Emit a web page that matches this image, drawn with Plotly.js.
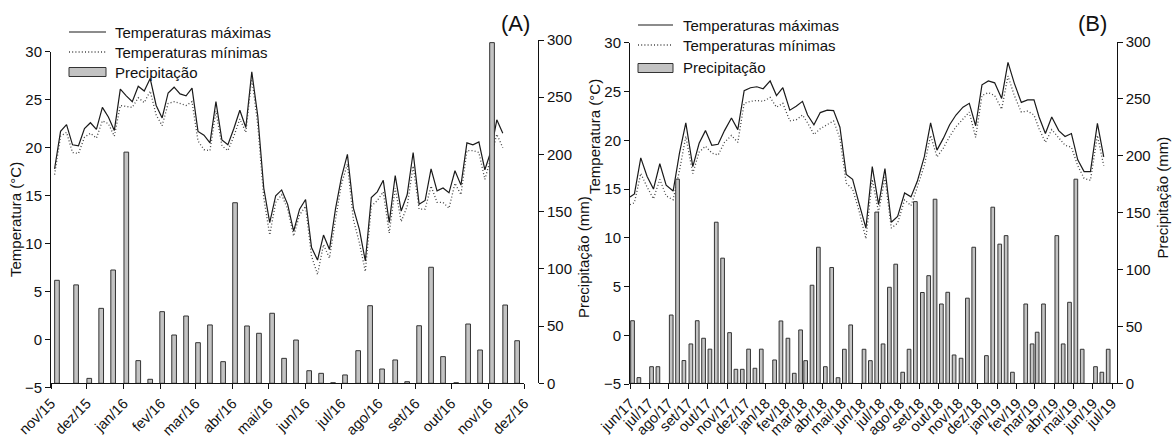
<!DOCTYPE html>
<html>
<head>
<meta charset="utf-8">
<script src="https://cdn.plot.ly/plotly-3.0.1.min.js"></script>
<style>
html,body{margin:0;padding:0;background:#fff;}
#chart{width:1173px;height:443px;}
</style>
</head>
<body>
<div id="chart"></div>
<script>
// ---------------- Panel A (nov/15 - dez/16) ----------------
const A_tempStart = '2015-11-04';   // first 5-day period
const A_tempStepDays = 5;
const A_tempMax = [17.8,21.7,22.4,20.3,20.2,22.0,22.6,21.9,24.2,23.2,21.8,26.1,25.4,24.8,26.4,25.9,27.2,24.4,23.1,25.7,
  26.3,25.6,25.4,26.2,21.7,21.3,20.5,24.8,20.8,20.3,22.0,23.9,22.1,27.9,23.3,15.8,12.2,15.0,15.6,14.1,
  11.3,13.6,14.6,9.6,8.3,10.9,9.4,13.6,16.9,19.3,13.7,11.5,8.2,14.8,15.4,16.6,12.2,17.1,13.4,15.1,
  19.5,14.1,14.5,17.8,15.5,15.8,15.3,17.6,16.1,20.5,20.3,20.6,17.7,19.6,22.9,21.5];
const A_tempMin = [17.2,21.2,21.6,19.5,19.4,21.1,21.5,21.0,22.8,22.5,21.2,24.4,24.3,24.2,25.2,24.7,25.9,23.4,22.3,24.6,
  24.8,24.6,24.4,24.8,20.7,19.8,19.7,23.8,20.2,19.7,21.2,23.0,21.6,27.3,22.4,14.8,10.9,14.3,15.1,13.6,
  10.8,13.0,13.9,8.7,6.8,9.9,8.5,12.5,16.2,18.3,12.5,10.1,7.1,13.9,14.5,15.4,11.1,15.8,12.3,13.9,
  18.1,13.6,13.6,16.0,14.3,14.3,13.7,16.3,15.1,19.7,19.7,19.5,16.7,18.9,21.4,20.0];
const A_precipDates = ['2015-11-06','2015-11-22','2015-12-03','2015-12-13','2015-12-23',
  '2016-01-03','2016-01-13','2016-01-23','2016-02-02','2016-02-12','2016-02-22',
  '2016-03-03','2016-03-13','2016-03-24','2016-04-03','2016-04-13','2016-04-23',
  '2016-05-04','2016-05-14','2016-05-24','2016-06-04','2016-06-14','2016-06-24',
  '2016-07-04','2016-07-15','2016-07-25','2016-08-04','2016-08-15','2016-08-25',
  '2016-09-04','2016-09-14','2016-09-24','2016-10-05','2016-10-15','2016-10-25',
  '2016-11-04','2016-11-15','2016-11-25'];
const A_precip = [90,86,4.3,65.5,99,
  202,19.8,3.5,62.6,42.2,58.8,
  35.5,51,18.9,157.8,50.1,43.7,
  61.2,21.8,37.8,11,8.7,0.5,
  7.3,28.5,67.8,12.5,20.4,1.4,
  50.3,101.4,23.3,0.5,51.8,29.1,
  297.7,68.4,37.2];
const A_tickDates = ['2015-11-01','2015-12-01','2016-01-01','2016-02-01','2016-03-01','2016-04-01','2016-05-01',
  '2016-06-01','2016-07-01','2016-08-01','2016-09-01','2016-10-01','2016-11-01','2016-12-01'];
const A_tickLabels = ['nov/15','dez/15','jan/16','fev/16','mar/16','abr/16','mai/16',
  'jun/16','jul/16','ago/16','set/16','out/16','nov/16','dez/16'];

// ---------------- Panel B (jun/17 - jul/19) ----------------
const B_tempFirstDate = '2017-06-01';
const B_decendioDays = [8,18,28];
const B_tempMax = [14.2,
  14.5,18.2,16.3, 15.0,17.6,15.4, 14.8,18.7,21.8, 17.3,19.7,21.0, 19.5,19.6,21.0, 22.3,21.1,25.1,
  25.4,25.5,25.3, 26.1,24.6,25.4, 23.1,23.5,24.0, 22.6,21.6,22.85, 23.1,23.05,21.35, 16.5,16.0,13.55,
  11.0,17.3,13.4, 17.1,11.6,12.2, 14.6,14.2,15.8, 18.3,21.8,19.0, 20.2,21.6,22.6, 23.4,23.8,21.5,
  25.7,26.1,25.9, 24.3,28.0,25.85, 23.9,24.15,24.15, 22.4,20.7,22.4, 21.0,20.4,20.7, 18.0,16.8,16.8,
  21.75,18.3];
const B_tempMin = [13.4,
  13.6,16.6,15.2, 14.0,16.0,14.3, 13.9,16.9,20.4, 16.6,18.8,19.4, 18.7,18.5,19.8, 20.5,19.8,23.8,
  24.0,24.1,24.0, 24.4,23.4,23.8, 22.0,22.1,22.6, 21.8,20.6,21.2, 21.6,22.0,20.2, 15.6,15.0,12.8,
  9.9,16.0,12.6, 16.2,11.0,11.5, 13.9,13.3,15.2, 17.4,20.5,18.3, 19.2,20.4,21.4, 22.2,22.9,20.3,
  24.6,24.9,24.6, 23.2,26.6,24.6, 22.9,23.0,22.6, 21.2,19.8,21.1, 20.3,19.5,19.3, 17.4,16.1,15.9,
  20.5,17.4];
const B_precipDates = ['2017-06-05','2017-06-15','2017-07-05','2017-07-15',
  '2017-08-05','2017-08-15','2017-08-25','2017-09-05','2017-09-15','2017-09-25',
  '2017-10-05','2017-10-15','2017-10-25','2017-11-05','2017-11-15','2017-11-25',
  '2017-12-05','2017-12-15','2017-12-25','2018-01-15','2018-01-25',
  '2018-02-05','2018-02-15','2018-02-25','2018-03-05','2018-03-15','2018-03-25',
  '2018-04-05','2018-04-15','2018-04-25','2018-05-05','2018-05-15',
  '2018-06-05','2018-06-15','2018-06-25','2018-07-05','2018-07-15','2018-07-25',
  '2018-08-05','2018-08-15','2018-08-25','2018-09-05','2018-09-15','2018-09-25',
  '2018-10-05','2018-10-15','2018-10-25','2018-11-05','2018-11-15','2018-11-25',
  '2018-12-15','2018-12-25','2019-01-05','2019-01-15','2019-01-25',
  '2019-02-15','2019-02-25','2019-03-05','2019-03-15',
  '2019-04-05','2019-04-15','2019-04-25','2019-05-05','2019-05-15',
  '2019-06-05','2019-06-15','2019-06-25'];
const B_precip = [55,5,14.6,14.6,
  60,179.4,20,34.6,55,39.6,
  30,141.6,110,44.5,12.3,12.3,
  30,13.2,30,20.5,54.8,
  39.6,8.8,46.9,19.9,86.2,119.6,
  14.6,101.8,4.9,29.9,51.3,
  29.9,19.9,150.5,34.6,84.4,104.7,
  9.7,29.9,159.7,79.8,94.6,161.8,
  69.7,80,24.9,22,74.8,119.6,
  24.3,154.8,122.3,129.8,9.7,
  69.7,34.6,44.9,69.7,
  129.8,34.6,71.2,179.4,29.9,
  14.6,9.7,29.9];
const B_tickDates = ['2017-06-01','2017-07-01','2017-08-01','2017-09-01','2017-10-01','2017-11-01','2017-12-01',
  '2018-01-01','2018-02-01','2018-03-01','2018-04-01','2018-05-01','2018-06-01','2018-07-01','2018-08-01',
  '2018-09-01','2018-10-01','2018-11-01','2018-12-01','2019-01-01','2019-02-01','2019-03-01','2019-04-01',
  '2019-05-01','2019-06-01','2019-07-01'];
const B_tickLabels = ['jun/17','jul/17','ago/17','set/17','out/17','nov/17','dez/17',
  'jan/18','fev/18','mar/18','abr/18','mai/18','jun/18','jul/18','ago/18',
  'set/18','out/18','nov/18','dez/18','jan/19','fev/19','mar/19','abr/19',
  'mai/19','jun/19','jul/19'];

const tempTicks = [-5,0,5,10,15,20,25,30];
const precipTicks = [0,50,100,150,200,250,300];

const LBL_MAX = 'Temperaturas máximas';
const LBL_MIN = 'Temperaturas mínimas';
const LBL_PRE = 'Precipitação';
const TITLE_T = 'Temperatura (°C)';
const TITLE_P = 'Precipitação (mm)';

// ---------------- helpers ----------------
function addDays(iso, n){
  const d = new Date(iso + 'T00:00:00Z');
  d.setUTCDate(d.getUTCDate() + n);
  return d.toISOString().slice(0,10);
}
function decendioDates(y, m, count, days){
  const out = [];
  while(out.length < count){
    for(const d of days){
      if(out.length < count) out.push(y + '-' + String(m).padStart(2,'0') + '-' + String(d).padStart(2,'0'));
    }
    m++; if(m > 12){ m = 1; y++; }
  }
  return out;
}
const A_tempDates = A_tempMax.map((_, i) => addDays(A_tempStart, i * A_tempStepDays));
const B_tempDates = [B_tempFirstDate].concat(decendioDates(2017, 6, B_tempMax.length - 1, B_decendioDays));

const W = 1173, H = 443;
const fx = p => p / W;
const fy = p => 1 - p / H;
const FONT = 'Liberation Sans, Arial, Helvetica, sans-serif';
const INK = '#111';

const MAX_COLOR = '#1a1a1a', MIN_COLOR = '#444', MIN_DASH = '1px,2.2px';
const BAR_FILL = '#c3c3c3', BAR_EDGE = '#333';

const maxLine = {color:MAX_COLOR, width:1.2};
const minLine = {color:MIN_COLOR, width:1.3, dash:MIN_DASH};
const barMarker = {color:BAR_FILL, line:{color:BAR_EDGE, width:1}};

const traces = [
  {type:'scatter', mode:'lines', x:A_tempDates, y:A_tempMax, xaxis:'x', yaxis:'y', name:LBL_MAX, line:maxLine},
  {type:'scatter', mode:'lines', x:A_tempDates, y:A_tempMin, xaxis:'x', yaxis:'y', name:LBL_MIN, line:minLine},
  {type:'bar', x:A_precipDates, y:A_precip, xaxis:'x', yaxis:'y2', name:LBL_PRE, marker:barMarker, width:3.9*86400000},
  {type:'scatter', mode:'lines', x:B_tempDates, y:B_tempMax, xaxis:'x2', yaxis:'y3', name:LBL_MAX, line:maxLine},
  {type:'scatter', mode:'lines', x:B_tempDates, y:B_tempMin, xaxis:'x2', yaxis:'y3', name:LBL_MIN, line:minLine},
  {type:'bar', x:B_precipDates, y:B_precip, xaxis:'x2', yaxis:'y4', name:LBL_PRE, marker:barMarker, width:5.8*86400000}
];

const axBase = {
  showline:true, linecolor:INK, linewidth:1, ticks:'outside', ticklen:5, tickwidth:1, tickcolor:INK,
  showgrid:false, zeroline:false, automargin:false, fixedrange:true,
  tickfont:{family:FONT, size:15, color:INK}
};
const xBase = Object.assign({}, axBase, {type:'date', tickmode:'array', tickangle:-45, tickfont:{family:FONT, size:14.5, color:INK}});

// legend keys (drawn as paper-space shapes + text, like the original figure)
function legendBlock(x0, x1, xText, rows){
  const shapes = [
    {type:'line', xref:'paper', yref:'paper', x0:fx(x0), x1:fx(x1), y0:fy(rows[0]), y1:fy(rows[0]), line:{color:MAX_COLOR, width:1.2}},
    {type:'line', xref:'paper', yref:'paper', x0:fx(x0), x1:fx(x1), y0:fy(rows[1]), y1:fy(rows[1]), line:{color:MIN_COLOR, width:1.3, dash:MIN_DASH}},
    {type:'rect', xref:'paper', yref:'paper', x0:fx(x0), x1:fx(x1), y0:fy(rows[2]+4.5), y1:fy(rows[2]-4.5), fillcolor:BAR_FILL, line:{color:BAR_EDGE, width:1}}
  ];
  const labels = [LBL_MAX, LBL_MIN, LBL_PRE].map((t, i) => ({
    text:t, xref:'paper', yref:'paper', x:fx(xText), y:fy(rows[i]), xanchor:'left', yanchor:'middle',
    showarrow:false, font:{family:FONT, size:15, color:INK}
  }));
  return {shapes, labels};
}
const legA = legendBlock(69, 106, 113, [32, 52, 72]);
const legB = legendBlock(638, 673, 681, [25, 45, 68]);

const layout = {
  width:W, height:H,
  margin:{l:0, r:0, t:0, b:0},
  paper_bgcolor:'#fff', plot_bgcolor:'rgba(0,0,0,0)',
  font:{family:FONT, size:15, color:INK},
  showlegend:false,
  bargap:0,
  xaxis: Object.assign({}, xBase, {domain:[fx(51), fx(524.3)], range:['2015-11-01','2016-12-01'], anchor:'y2',
    tickvals:A_tickDates, ticktext:A_tickLabels}),
  yaxis: Object.assign({}, axBase, {domain:[fy(387.7), fy(51.7)], range:[-5,30], anchor:'x', tickmode:'array', tickvals:tempTicks}),
  yaxis2: Object.assign({}, axBase, {domain:[fy(383.3), fy(40)], range:[0,300], anchor:'free', position:fx(538), side:'right', tickmode:'array', tickvals:precipTicks}),
  xaxis2: Object.assign({}, xBase, {domain:[fx(630), fx(1116.7)], range:['2017-06-01','2019-07-08 10:00'], anchor:'y4',
    tickvals:B_tickDates, ticktext:B_tickLabels}),
  yaxis3: Object.assign({}, axBase, {domain:[fy(384), fy(42.9)], range:[-5,30], anchor:'x2', tickmode:'array', tickvals:tempTicks}),
  yaxis4: Object.assign({}, axBase, {domain:[fy(383.3), fy(42)], range:[0,300], anchor:'x2', side:'right', tickmode:'array', tickvals:precipTicks}),
  shapes: legA.shapes.concat(legB.shapes),
  annotations: [
    {text:'(A)', xref:'paper', yref:'paper', x:fx(515), y:fy(24), xanchor:'center', yanchor:'middle', showarrow:false, font:{family:FONT, size:22, color:INK}},
    {text:'(B)', xref:'paper', yref:'paper', x:fx(1092), y:fy(24), xanchor:'center', yanchor:'middle', showarrow:false, font:{family:FONT, size:22, color:INK}},
    {text:TITLE_T, xref:'paper', yref:'paper', x:fx(16), y:fy(220), xanchor:'center', yanchor:'middle', textangle:-90, showarrow:false, font:{family:FONT, size:15, color:INK}},
    {text:TITLE_P, xref:'paper', yref:'paper', x:fx(583), y:fy(257), xanchor:'center', yanchor:'middle', textangle:-90, showarrow:false, font:{family:FONT, size:15, color:INK}},
    {text:TITLE_T, xref:'paper', yref:'paper', x:fx(594), y:fy(137), xanchor:'center', yanchor:'middle', textangle:-90, showarrow:false, font:{family:FONT, size:15, color:INK}},
    {text:TITLE_P, xref:'paper', yref:'paper', x:fx(1161.5), y:fy(198), xanchor:'center', yanchor:'middle', textangle:-90, showarrow:false, font:{family:FONT, size:15, color:INK}}
  ].concat(legA.labels, legB.labels)
};

Plotly.newPlot('chart', traces, layout, {staticPlot:true, displayModeBar:false});
</script>
</body>
</html>
